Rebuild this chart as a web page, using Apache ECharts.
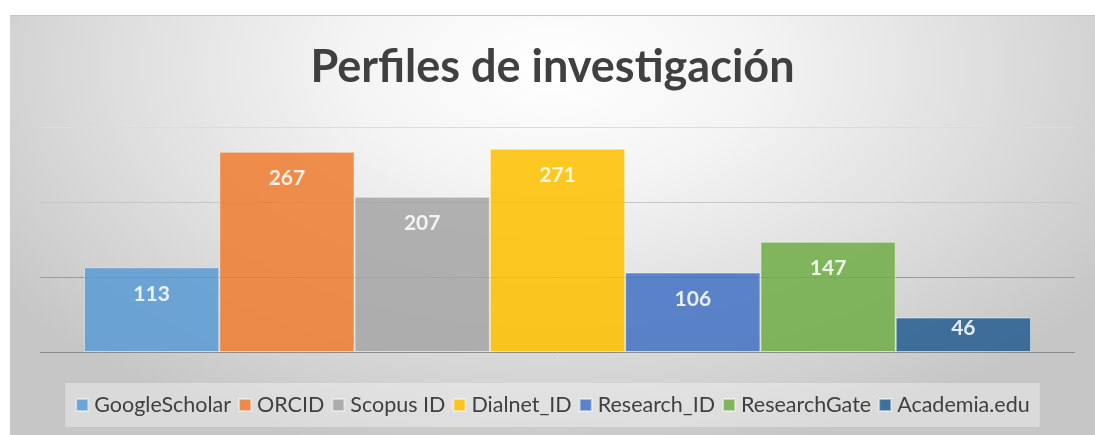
<!DOCTYPE html>
<html>
<head>
<meta charset="utf-8">
<script src="https://cdn.jsdelivr.net/npm/echarts@6/dist/echarts.min.js"></script>
<style>
  html, body { margin: 0; padding: 0; background: #fff; }
  #chart {
    position: absolute; left: 10px; top: 15px;
    width: 1085px; height: 419px;
    border-top: 1px solid #c4c4c4;
    background: radial-gradient(ellipse 62% 95% at 50% 12%, #ffffff 0%, #f4f4f4 30%, #dedede 65%, #c6c6c6 100%);
  }
</style>
</head>
<body>
<div id="chart"></div>
<script>
var categories = ['Perfiles'];
var seriesNames = ['GoogleScholar', 'ORCID', 'Scopus ID', 'Dialnet_ID', 'Research_ID', 'ResearchGate', 'Academia.edu'];
var seriesValues = [113, 267, 207, 271, 106, 147, 46];
var seriesColors = ['#5B9BD5', '#ED7D31', '#A5A5A5', '#FFC000', '#4472C4', '#70AD47', '#255E91'];

var chart = echarts.init(document.getElementById('chart'));

// una serie por perfil, todas en la misma categoria
var series = seriesNames.map(function (name, i) {
    var v = seriesValues[i];
    return {
        name: name,
        type: 'bar',
        // barras cortas: la etiqueta va pegada arriba
        data: [v < 60 ? { value: v, label: { distance: 0 } } : v],
        barGap: '0%',
        barCategoryGap: '8.5%',
        itemStyle: {
            color: seriesColors[i],
            opacity: 0.86,
            borderColor: 'rgba(255,255,255,0.55)',
            borderWidth: 1
        },
        label: {
            show: true,
            position: 'insideTop',
            distance: 16,
            color: '#fff',
            fontWeight: 'bold',
            fontSize: 21,
            fontFamily: 'Lato'
        }
    };
});

chart.setOption({
    title: {
        text: 'Perfiles de investigación',
        left: 'center',
        top: 24,
        textStyle: { fontFamily: 'Lato', fontWeight: 'bold', fontSize: 45, color: '#404040' }
    },
    legend: {
        bottom: 8,
        left: 'center',
        backgroundColor: 'rgba(255,255,255,0.35)',
        padding: [11, 10],
        itemWidth: 12,
        itemHeight: 12,
        itemGap: 7,
        icon: 'rect',
        textStyle: { fontFamily: 'Lato', fontSize: 21.5, color: '#404040', padding: [0, 0, 0, 1] },
        data: seriesNames
    },
    grid: { left: 30, right: 20, top: 111, bottom: 83 },
    xAxis: {
        type: 'category',
        data: categories,
        axisLine: { show: false },
        axisTick: { show: false },
        axisLabel: { show: false }
    },
    yAxis: {
        type: 'value',
        min: 0, max: 300, interval: 100,
        axisLabel: { show: false },
        axisLine: { show: false },
        axisTick: { show: false },
        splitLine: { lineStyle: { color: ['#8c8c8c', '#9a9a9a', '#c6c6c6', '#dcdcdc'], width: 1 } }
    },
    series: series
});
</script>
</body>
</html>
